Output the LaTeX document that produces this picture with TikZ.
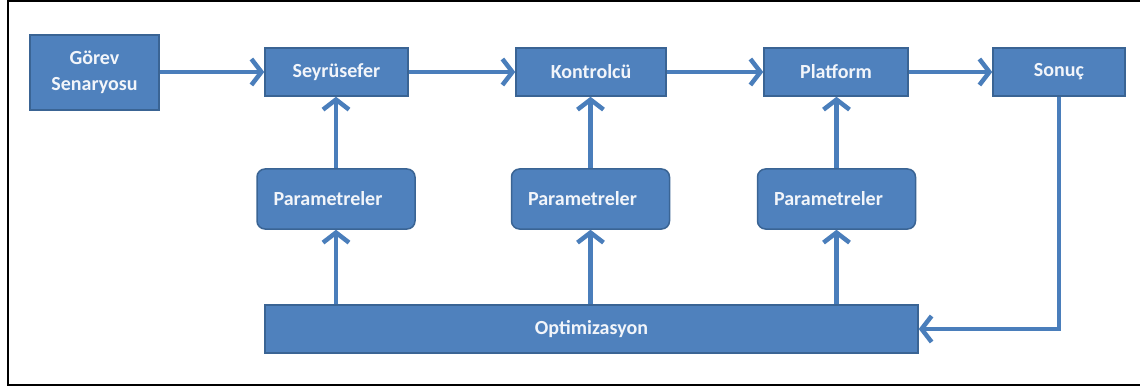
\documentclass[tikz,border=0pt]{standalone}
\usepackage{fontspec}
\setmainfont{Carlito}
\usetikzlibrary{arrows.meta}
\definecolor{boxblue}{HTML}{4F81BD}
\definecolor{boxedge}{HTML}{3A6494}
\definecolor{arrowblue}{HTML}{4A7EBB}
\definecolor{boxtext}{HTML}{F2F5FA}
\begin{document}
\begin{tikzpicture}[x=1pt,y=-1pt,
  blk/.style={draw=boxedge, line width=1.5pt, fill=boxblue, text=boxtext,
    font=\bfseries\fontsize{20}{26}\selectfont, inner sep=0pt, align=center},
  parbox/.style={blk, rounded corners=8pt, minimum width=158pt, minimum height=60pt},
  topbox/.style={blk, minimum height=48pt},
  conn/.style={draw=arrowblue, line width=4.5pt,
    -{Straight Barb[length=10pt,width=26pt,line width=4.5pt]}}
]
\fill[white] (0,0) rectangle (1140,390);
\useasboundingbox (0,0) rectangle (1140,390);
\draw[line width=2pt, black] (1150,1) -- (8,1) -- (8,385) -- (1150,385);

\node[blk, minimum width=129pt, minimum height=75pt] (gorev) at (94.5,72.5) {Görev\\Senaryosu};
\node[topbox, minimum width=143pt] (seyr) at (336.5,72) {Seyrüsefer};
\node[topbox, minimum width=150pt] (kont) at (591,72) {Kontrolcü};
\node[topbox, minimum width=144pt] (plat) at (836,72) {Platform};
\node[topbox, minimum width=132pt] (sonuc) at (1059,72) {Sonuç};

\node[parbox] (par1) at (336,199) {Parametreler\hspace*{16pt}};
\node[parbox] (par2) at (590.5,199) {Parametreler\hspace*{16pt}};
\node[parbox] (par3) at (836.5,199) {Parametreler\hspace*{16pt}};

\node[topbox, minimum width=653pt] (opt) at (591.5,329) {Optimizasyon};

\draw[conn] (gorev.east |- seyr) -- (seyr.west);
\draw[conn] (seyr.east) -- (kont.west);
\draw[conn] (kont.east) -- (plat.west);
\draw[conn] (plat.east) -- (sonuc.west);

\draw[conn] (par1.north) -- (par1.north |- seyr.south);
\draw[conn] (par2.north) -- (par2.north |- kont.south);
\draw[conn] (par3.north) -- (par3.north |- plat.south);

\draw[conn] (opt.north -| par1) -- (par1.south);
\draw[conn] (opt.north -| par2) -- (par2.south);
\draw[conn] (opt.north -| par3) -- (par3.south);

\draw[conn] (sonuc.south) |- (opt.east);
\end{tikzpicture}
\end{document}
